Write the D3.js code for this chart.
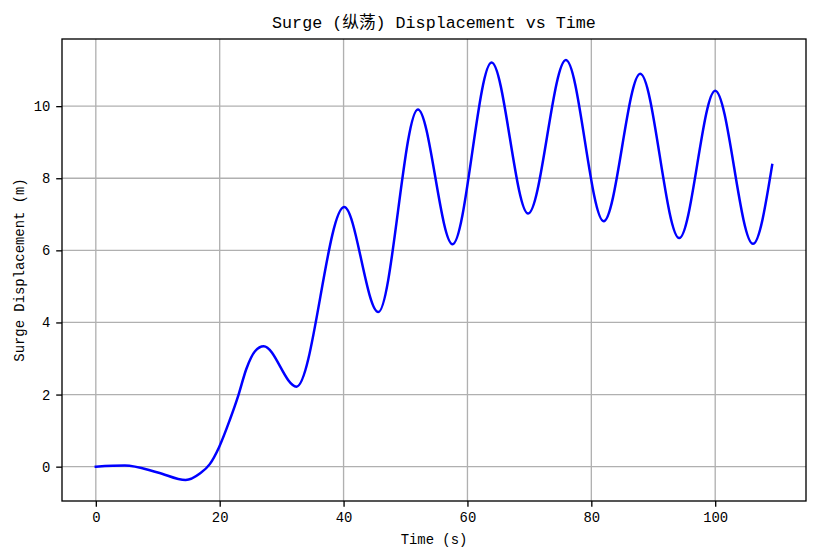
<!DOCTYPE html>
<html>
<head>
<meta charset="utf-8">
<title>Surge Displacement vs Time</title>
<script src="https://cdn.jsdelivr.net/npm/d3@7"></script>
<style>
  body { margin: 0; background: #fff; }
  svg text { font-family: "Liberation Mono", "Noto Sans CJK SC", monospace; fill: #000; }
</style>
</head>
<body>
<svg id="chart" width="817" height="558"></svg>
<script>
// values (extrema and a few shape points)
var timeS = [0, 4.7, 10, 14.5, 16.8, 18.4, 19.9, 21.6, 23.0, 24.3, 25.7, 27.1, 32.4, 40.1, 45.6,
             52.0, 57.6, 63.9, 69.8, 75.9, 82.0, 87.9, 94.2, 100.0, 106.1, 109.2];
var surgeM = [0, 0.03, -0.16, -0.37, -0.19, 0.07, 0.54, 1.28, 1.97, 2.71, 3.2, 3.34, 2.22, 7.2, 4.29,
              9.91, 6.17, 11.21, 7.02, 11.28, 6.81, 10.9, 6.34, 10.43, 6.18, 8.37];
var xTicks = [0, 20, 40, 60, 80, 100];
var yTicks = [0, 2, 4, 6, 8, 10];

var margin = {top: 39, right: 11, bottom: 57, left: 62};
var W = 817, H = 558;
var w = W - margin.left - margin.right, h = H - margin.top - margin.bottom;

var svg = d3.select("#chart");
var g = svg.append("g").attr("transform", "translate(" + margin.left + "," + margin.top + ")");

// matplotlib style 5% margins
var xPad = (d3.max(timeS) - d3.min(timeS)) * 0.05;
var yPad = (d3.max(surgeM) - d3.min(surgeM)) * 0.05;
var x = d3.scaleLinear().domain([d3.min(timeS) - xPad, d3.max(timeS) + xPad]).range([0, w]);
var y = d3.scaleLinear().domain([d3.min(surgeM) - yPad, d3.max(surgeM) + yPad]).range([h, 0]);

// grid
g.append("g").selectAll("line").data(xTicks).enter().append("line")
  .attr("x1", function(d) { return x(d); }).attr("x2", function(d) { return x(d); })
  .attr("y1", 0).attr("y2", h)
  .style("stroke", "#b0b0b0").style("stroke-width", 1.33);
g.append("g").selectAll("line").data(yTicks).enter().append("line")
  .attr("y1", function(d) { return y(d); }).attr("y2", function(d) { return y(d); })
  .attr("x1", 0).attr("x2", w)
  .style("stroke", "#b0b0b0").style("stroke-width", 1.33);

// curve
var data = timeS.map(function(t, i) { return {t: t, v: surgeM[i]}; });
var line = d3.line()
  .x(function(d) { return x(d.t); })
  .y(function(d) { return y(d.v); })
  .curve(d3.curveMonotoneX);
g.append("path").datum(data)
  .attr("d", line)
  .style("fill", "none").style("stroke", "#0000ff").style("stroke-width", 2.5)
  .style("stroke-linejoin", "round").style("stroke-linecap", "square");

// frame
g.append("rect").attr("width", w).attr("height", h)
  .style("fill", "none").style("stroke", "#000").style("stroke-width", 1.33);

// axes
var xAxis = g.append("g").attr("transform", "translate(0," + h + ")")
  .call(d3.axisBottom(x).tickValues(xTicks).tickSize(5.8).tickPadding(5.8).tickFormat(d3.format("d")));
var yAxis = g.append("g")
  .call(d3.axisLeft(y).tickValues(yTicks).tickSize(5.8).tickPadding(5.8).tickFormat(d3.format("d")));
[xAxis, yAxis].forEach(function(a) {
  a.select(".domain").remove();
  a.selectAll(".tick line").style("stroke", "#000").style("stroke-width", 1.33);
  a.selectAll(".tick text").style("font-size", "13.9px")
    .style("font-family", "'Liberation Mono', 'Noto Sans CJK SC', monospace").style("fill", "#000");
});

// labels
svg.append("text").attr("x", margin.left + w / 2).attr("y", 28)
  .attr("text-anchor", "middle").style("font-size", "16.7px")
  .text("Surge (纵荡) Displacement vs Time");
svg.append("text").attr("x", margin.left + w / 2).attr("y", 544)
  .attr("text-anchor", "middle").style("font-size", "13.9px")
  .text("Time (s)");
svg.append("text").attr("transform", "translate(24," + (margin.top + h / 2) + ") rotate(-90)")
  .attr("text-anchor", "middle").style("font-size", "13.9px")
  .text("Surge Displacement (m)");
</script>
</body>
</html>
